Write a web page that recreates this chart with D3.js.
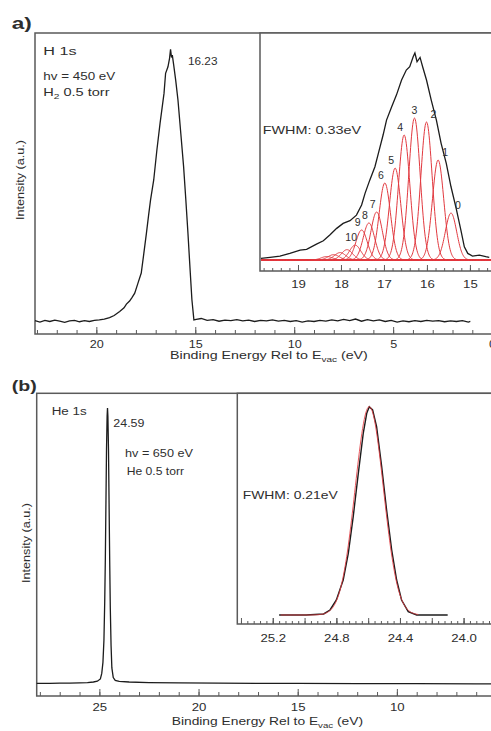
<!DOCTYPE html>
<html>
<head>
<meta charset="utf-8">
<script src="https://cdn.jsdelivr.net/npm/d3@7"></script>
<style>
  html, body { margin: 0; padding: 0; background: #fff; }
  svg { display: block; font-family: "Liberation Sans", Arial, sans-serif; }
</style>
</head>
<body>
<script>
// ---- data (binding energy in eV, intensity normalised to the peak)

// a) H 1s wide scan
var h1sSurvey = [
  [23.1,0.003],[22.85,-0.002],[22.6,0.004],[22.35,0.0],[22.1,0.005],[21.85,0.001],[21.6,-0.003],
  [21.35,0.002],[21.1,0.004],[20.85,-0.001],[20.6,0.003],[20.35,0.0],[20.1,0.004],[19.85,0.006],
  [19.6,0.009],[19.33,0.014],[19.1,0.022],[18.82,0.037],[18.6,0.05],[18.48,0.064],[18.32,0.075],
  [18.2,0.088],[18.06,0.104],[17.9,0.14],[17.73,0.178],[17.6,0.25],[17.47,0.324],[17.36,0.39],
  [17.26,0.447],[17.1,0.52],[16.94,0.63],[16.78,0.728],[16.58,0.838],[16.5,0.912],[16.38,0.936],
  [16.3,0.967],[16.25,1.0],[16.2,0.97],[16.16,0.979],[16.09,0.942],[15.99,0.887],[15.875,0.814],
  [15.73,0.69],[15.59,0.569],[15.48,0.45],[15.37,0.324],[15.27,0.2],[15.17,0.08],[15.07,0.006],
  [14.95,0.008],[14.7,0.011],[14.4,0.004],[14.1,0.007],[13.8,0.001],[13.5,0.005],[13.2,0.003],
  [12.9,0.007],[12.6,0.002],[12.3,0.005],[12.0,0.0],[11.7,0.004],[11.4,0.002],[11.1,0.006],
  [10.8,0.001],[10.5,0.004],[10.2,0.0],[9.9,0.003],[9.6,-0.002],[9.3,0.002],[9.0,0.0],[8.7,0.004],
  [8.4,0.001],[8.1,0.006],[7.8,0.002],[7.5,0.008],[7.2,0.003],[6.9,0.009],[6.6,0.001],[6.3,0.007],
  [6.0,0.002],[5.7,0.006],[5.4,0.0],[5.1,0.004],[4.8,-0.002],[4.5,0.002],[4.2,-0.001],[3.9,0.003],
  [3.6,0.0],[3.3,0.004],[3.0,0.001],[2.7,0.003],[2.4,-0.001],[2.1,0.002],[1.8,0.0],[1.5,0.003],
  [1.2,-0.002],[1.1,0.0]
];

// a) inset: high resolution H 1s scan
var h1sZoom = [
  [19.88,0.008],[19.65,0.013],[19.42,0.019],[19.19,0.032],[18.95,0.048],[18.8,0.052],[18.57,0.077],
  [18.41,0.093],[18.26,0.121],[18.1,0.153],[17.95,0.177],[17.79,0.19],[17.64,0.217],[17.52,0.266],
  [17.44,0.322],[17.33,0.386],[17.21,0.451],[17.13,0.515],[17.02,0.604],[16.94,0.676],[16.82,0.741],
  [16.71,0.797],[16.59,0.87],[16.48,0.918],[16.4,0.934],[16.32,0.982],[16.28,1.0],[16.23,0.958],
  [16.16,0.979],[16.1,0.934],[16.01,0.87],[15.9,0.773],[15.78,0.676],[15.67,0.564],[15.55,0.467],
  [15.44,0.354],[15.32,0.25],[15.21,0.145],[15.13,0.064],[15.05,0.032],[14.94,0.019],[14.78,0.024],
  [14.63,0.016],[14.55,0.013]
];

// a) inset: vibrational components of the fit (v = 0 ... 10 and the weak ones above)
var h2Centers = [15.44, 15.74, 16.01, 16.29, 16.53, 16.74, 16.98, 17.17, 17.35, 17.52, 17.67, 17.86, 18.02, 18.17, 18.33];
var h2Heights = [0.227, 0.483, 0.667, 0.686, 0.604, 0.444, 0.372, 0.232, 0.179, 0.145, 0.072, 0.05, 0.036, 0.026, 0.017];
var h2Labels = ["0", "1", "2", "3", "4", "5", "6", "7", "8", "9", "10"];
var h2Fwhm = 0.31;

// b) He 1s wide scan
var he1sSurvey = [
  [28.16,0.004],[27.5,0.004],[27.0,0.005],[26.5,0.005],[26.0,0.006],[25.6,0.007],[25.3,0.009],
  [25.1,0.012],[24.95,0.02],[24.88,0.04],[24.82,0.08],[24.77,0.16],[24.73,0.3],[24.7,0.45],
  [24.67,0.65],[24.64,0.85],[24.61,0.97],[24.59,1.0],[24.57,0.97],[24.54,0.85],[24.51,0.65],
  [24.48,0.45],[24.45,0.28],[24.41,0.14],[24.37,0.06],[24.3,0.025],[24.2,0.015],[24.0,0.011],
  [23.5,0.009],[22.5,0.007],[21.0,0.006],[19.0,0.005],[17.0,0.004],[15.0,0.004],[12.0,0.003],
  [9.0,0.003],[6.0,0.002],[4.8,0.002]
];

// b) inset: high resolution He 1s scan and its single gaussian fit
var he1sZoom = [
  [25.16,0.0],[24.99,0.0],[24.88,0.005],[24.84,0.024],[24.8,0.072],[24.757,0.168],[24.725,0.296],
  [24.694,0.472],[24.662,0.68],[24.631,0.872],[24.609,0.968],[24.593,1.0],[24.572,0.984],
  [24.547,0.904],[24.515,0.712],[24.484,0.504],[24.452,0.312],[24.421,0.168],[24.39,0.072],
  [24.348,0.016],[24.295,0.0],[24.1,0.0]
];
var heCenter = 24.593;
var heHeight = 1.0;
var heFwhm = 0.21;

// tick labels
var topMajor = [20, 15, 10, 5, 0];
var topInsetMajor = [19, 18, 17, 16, 15];
var botMajor = [25, 20, 15, 10];
var botInsetMajor = [25.2, 24.8, 24.4, 24.0];

// ---- drawing
var W = 491, H = 731;
var ink = "#1c1c1c", frame = "#5a5a5a", txt = "#2e2e2e", red = "#e2393f";

var svg = d3.select("body").append("svg").attr("width", W).attr("height", H);
var defs = svg.append("defs");

function gauss(c, h, fwhm) {
  var s = fwhm / 2.3548;
  return function(e) { return h * Math.exp(-0.5 * Math.pow((e - c) / s, 2)); };
}

function clipRect(id, x0, y0, x1, y1) {
  defs.append("clipPath").attr("id", id).append("rect")
    .attr("x", x0).attr("y", y0).attr("width", x1 - x0).attr("height", y1 - y0);
  return "url(#" + id + ")";
}

// text with a given drawn width (the figure's lettering is horizontally wide)
function label(x, y, parts, size, width, opts) {
  opts = opts || {};
  var t = svg.append("text")
    .attr("font-size", size)
    .attr("fill", txt)
    .attr("font-weight", opts.bold ? "bold" : "normal")
    .attr("text-anchor", opts.anchor || "start");
  var shift = 0;
  parts.forEach(function(p) {
    if (typeof p === "string") {
      t.append("tspan").attr("font-size", size).attr("dy", -shift).text(p);
      shift = 0;
    } else {
      shift = size * 0.3;
      t.append("tspan").attr("font-size", size * 0.7).attr("dy", shift).text(p.sub);
    }
  });
  var w = t.node().getBBox().width;
  var s = width / w;
  t.attr("transform", "translate(" + x + "," + y + ")" + (opts.rotate ? " rotate(-90)" : "") + " scale(" + s + ",1)");
  return t;
}

function ticksOnly(scale, y, values, len) {
  svg.append("g").attr("transform", "translate(0," + y + ")")
    .call(d3.axisBottom(scale).tickValues(values).tickSize(-len).tickSizeOuter(0).tickFormat(""))
    .call(function(g) { g.select(".domain").remove(); })
    .selectAll("line").attr("stroke", frame);
}

function bottomAxis(scale, y, major, len, pad, size, fmt) {
  var ax = svg.append("g").attr("transform", "translate(0," + y + ")")
    .call(d3.axisBottom(scale).tickValues(major).tickSize(-len).tickSizeOuter(0)
      .tickPadding(pad).tickFormat(fmt || d3.format("d")))
    .call(function(g) { g.select(".domain").remove(); });
  ax.selectAll("line").attr("stroke", frame);
  ax.selectAll("text").attr("font-size", size).attr("fill", txt)
    .attr("font-family", "Liberation Sans, Arial, sans-serif")
    .attr("transform", "scale(1.2,1)");
  return ax;
}

function box(x0, y0, x1, y1, fill) {
  svg.append("rect").attr("x", x0).attr("y", y0).attr("width", x1 - x0).attr("height", y1 - y0)
    .attr("fill", fill || "none").attr("stroke", frame).attr("stroke-width", 1.5);
}

// ===== panel a) =====
var ax = d3.scaleLinear().domain([23.1, -0.4]).range([35, 500]);
var ay = d3.scaleLinear().domain([-0.046, 1.06]).range([334, 33]);

box(35, 33, 520, 334);
ticksOnly(ax, 334, d3.range(0, 24, 1), 4);
bottomAxis(ax, 334, topMajor, 7, 7, 10.5);
svg.append("path").datum(h1sSurvey)
  .attr("fill", "none").attr("stroke", ink).attr("stroke-width", 1.3)
  .attr("d", d3.line().x(function(d) { return ax(d[0]); }).y(function(d) { return ay(d[1]); }));

// inset a)
var ix = d3.scaleLinear().domain([19.884, 14.3]).range([260, 500]);
var iy = d3.scaleLinear().domain([-0.053, 1.097]).range([271, 33]);
box(260, 33, 520, 271, "#fff");
ticksOnly(ix, 271, d3.range(14.4, 19.9, 0.2), 3);
bottomAxis(ix, 271, topInsetMajor, 6, 9, 11);

var insetA = svg.append("g").attr("clip-path", clipRect("clipA", 261, 34, 520, 270));
var grid = d3.range(19.9, 14.28, -0.01);
var redLine = d3.line().x(function(d) { return ix(d[0]); }).y(function(d) { return iy(d[1]); });
h2Centers.forEach(function(c, i) {
  var f = gauss(c, h2Heights[i], h2Fwhm);
  insetA.append("path").datum(grid.map(function(e) { return [e, f(e)]; }))
    .attr("fill", "none").attr("stroke", red).attr("stroke-width", 1).attr("d", redLine);
});
insetA.append("path").datum(h1sZoom)
  .attr("fill", "none").attr("stroke", ink).attr("stroke-width", 1.3).attr("d", redLine);

h2Labels.forEach(function(l, i) {
  var dx = i < 3 ? 7 : (i === 3 ? 0 : -4);
  svg.append("text")
    .attr("x", ix(h2Centers[i]) + dx).attr("y", iy(h2Heights[i]) - 4)
    .attr("text-anchor", "middle").attr("font-size", 10.5).attr("fill", txt)
    .text(l);
});

label(11.7, 28.5, ["a)"], 16, 20, { bold: true });
label(43.3, 55, ["H 1s"], 11, 34);
label(43.3, 80, ["hv = 450 eV"], 10.5, 72);
label(43.3, 95.5, ["H", { sub: "2" }, " 0.5 torr"], 10.5, 67);
label(188, 65, ["16.23"], 10, 30);
label(262.7, 133.5, ["FWHM: 0.33eV"], 10, 99);
label(170, 359, ["Binding Energy Rel to E", { sub: "vac" }, " (eV)"], 10, 198);
label(24, 180, ["Intensity (a.u.)"], 10, 80, { rotate: true, anchor: "middle" });

// ===== panel b) =====
var bx = d3.scaleLinear().domain([28.16, 4.8]).range([36.7, 500]);
var by = d3.scaleLinear().domain([-0.0416, 1.053]).range([696, 393.3]);
box(36.7, 393.3, 520, 696);
ticksOnly(bx, 696, d3.range(5, 29, 1), 4);
bottomAxis(bx, 696, botMajor, 7, 7, 11);
svg.append("path").datum(he1sSurvey)
  .attr("fill", "none").attr("stroke", ink).attr("stroke-width", 1.3)
  .attr("d", d3.line().x(function(d) { return bx(d[0]); }).y(function(d) { return by(d[1]); }));

// inset b)
var jx = d3.scaleLinear().domain([25.423, 23.771]).range([237.3, 500]);
var jy = d3.scaleLinear().domain([-0.0432, 1.064]).range([624, 393.3]);
box(237.3, 393.3, 520, 624, "#fff");
ticksOnly(jx, 624, d3.range(23.8, 25.42, 0.04), 3);
ticksOnly(jx, 624, d3.range(23.8, 25.42, 0.2), 6);
bottomAxis(jx, 624, botInsetMajor, 6, 10, 11, d3.format(".1f"));

var insetB = svg.append("g").attr("clip-path", clipRect("clipB", 238.3, 394.3, 520, 623));
var jline = d3.line().x(function(d) { return jx(d[0]); }).y(function(d) { return jy(d[1]); });
insetB.append("path").datum(he1sZoom)
  .attr("fill", "none").attr("stroke", ink).attr("stroke-width", 1.4).attr("d", jline);
var hf = gauss(heCenter, heHeight, heFwhm);
insetB.append("path").datum(d3.range(25.15, 24.28, -0.005).map(function(e) { return [e, hf(e)]; }))
  .attr("fill", "none").attr("stroke", red).attr("stroke-width", 1).attr("stroke-opacity", 0.85).attr("d", jline);

label(11.7, 390.5, ["(b)"], 14, 25, { bold: true });
label(51.7, 415, ["He 1s"], 11, 35.6);
label(113.3, 426.5, ["24.59"], 10, 31.7);
label(125, 456.5, ["hv = 650 eV"], 10.5, 68);
label(126.7, 475, ["He 0.5 torr"], 10.5, 58);
label(242.7, 499, ["FWHM: 0.21eV"], 10, 95.6);
label(171.7, 725, ["Binding Energy Rel to E", { sub: "vac" }, " (eV)"], 10.5, 191.6);
label(30, 543, ["Intensity (a.u.)"], 10, 80, { rotate: true, anchor: "middle" });
</script>
</body>
</html>
